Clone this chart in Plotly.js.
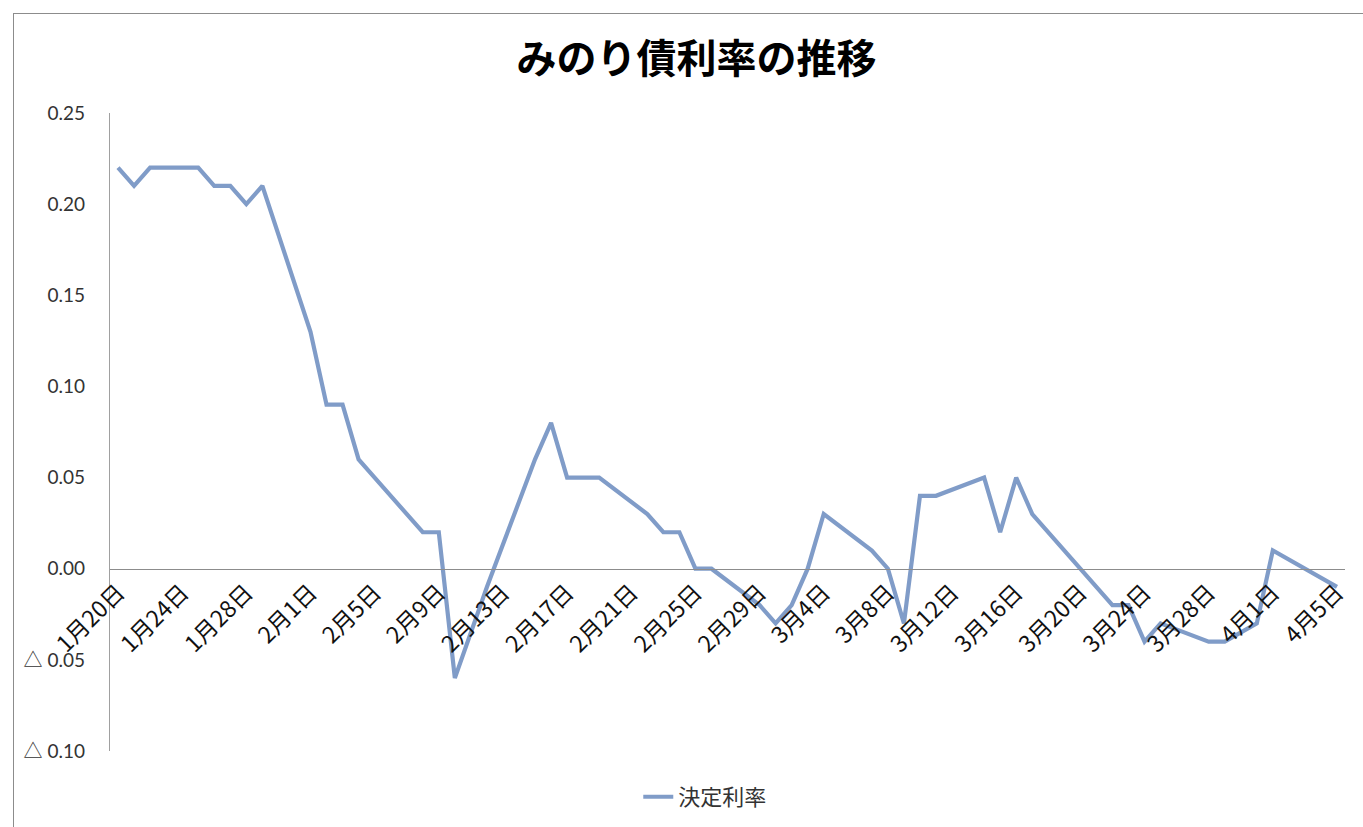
<!DOCTYPE html>
<html>
<head>
<meta charset="utf-8">
<script src="https://cdn.plot.ly/plotly-3.0.1.min.js"></script>
<style>
  html, body { margin: 0; padding: 0; background: #fff; }
  #chart { position: absolute; left: 0; top: 0; width: 1363px; height: 827px; }
  #frame { position: absolute; left: 13px; top: 13px; width: 1400px; height: 900px;
           border-top: 1.5px solid #8c8c8c; border-left: 1.5px solid #8c8c8c; pointer-events: none; }
</style>
</head>
<body>
<div id="chart"></div>
<div id="frame"></div>
<script>
const seriesName = '決定利率';
const dates = ['2016-01-20','2016-01-21','2016-01-22','2016-01-25','2016-01-26','2016-01-27','2016-01-28','2016-01-29',
  '2016-02-01','2016-02-02','2016-02-03','2016-02-04','2016-02-05','2016-02-08','2016-02-09','2016-02-10','2016-02-12',
  '2016-02-15','2016-02-16','2016-02-17','2016-02-18','2016-02-19','2016-02-22','2016-02-23','2016-02-24','2016-02-25','2016-02-26',
  '2016-02-29','2016-03-01','2016-03-02','2016-03-03','2016-03-04','2016-03-07','2016-03-08','2016-03-09','2016-03-10','2016-03-11',
  '2016-03-14','2016-03-15','2016-03-16','2016-03-17','2016-03-18','2016-03-22','2016-03-23','2016-03-24','2016-03-25',
  '2016-03-28','2016-03-29','2016-03-30','2016-03-31','2016-04-01','2016-04-05'];
const rates = [0.22,0.21,0.22,0.22,0.21,0.21,0.20,0.21,
  0.13,0.09,0.09,0.06,0.05,0.02,0.02,-0.06,-0.01,
  0.06,0.08,0.05,0.05,0.05,0.03,0.02,0.02,0.00,0.00,
  -0.02,-0.03,-0.02,0.00,0.03,0.01,0.00,-0.03,0.04,0.04,
  0.05,0.02,0.05,0.03,0.02,-0.02,-0.02,-0.04,-0.03,
  -0.04,-0.04,-0.035,-0.03,0.01,-0.01];
const xTickVals = ['2016-01-20','2016-01-24','2016-01-28','2016-02-01','2016-02-05','2016-02-09','2016-02-13','2016-02-17',
  '2016-02-21','2016-02-25','2016-02-29','2016-03-04','2016-03-08','2016-03-12','2016-03-16','2016-03-20','2016-03-24',
  '2016-03-28','2016-04-01','2016-04-05'];
const xTickText = ['1月20日','1月24日','1月28日','2月1日','2月5日','2月9日','2月13日','2月17日','2月21日','2月25日','2月29日',
  '3月4日','3月8日','3月12日','3月16日','3月20日','3月24日','3月28日','4月1日','4月5日'];
const yTickVals = [0.25,0.20,0.15,0.10,0.05,0.00,-0.05,-0.10];
const yTickText = ['0.25','0.20','0.15','0.10','0.05','0.00','△ 0.05','△ 0.10'];
const titleText = 'みのり債利率の推移';

const fontFam = "Lato, 'Noto Sans CJK JP', sans-serif";
const yMin = -0.10, yMax = 0.25;

const trace = {
  type: 'scatter', mode: 'lines', x: dates, y: rates, name: seriesName,
  line: { color: '#809cc8', width: 4.2 }
};

const layout = {
  width: 1363, height: 827,
  margin: { l: 110, r: 18, t: 113, b: 76, autoexpand: false },
  paper_bgcolor: '#ffffff', plot_bgcolor: '#ffffff',
  font: { family: fontFam, color: '#222', size: 16 },
  title: { text: titleText, x: 0.511, xanchor: 'center', y: 0.929, yanchor: 'middle',
           font: { family: "'Noto Sans CJK JP', sans-serif", size: 40, color: '#000', weight: 'bold' } },
  showlegend: true,
  legend: { orientation: 'h', x: 0.482, xanchor: 'center', y: -0.072, yanchor: 'middle',
            font: { family: "'Noto Sans CJK JP', sans-serif", size: 22, color: '#333' } },
  xaxis: {
    type: 'date', range: ['2016-01-19 12:00', '2016-04-05 12:00'],
    anchor: 'free', position: (0 - yMin) / (yMax - yMin),
    showline: true, linecolor: '#8c8c8c', linewidth: 1.2,
    showgrid: false, zeroline: false, ticks: '',
    tickmode: 'array', tickvals: xTickVals, ticktext: xTickText, tickangle: -45,
    tickfont: { family: "'Noto Sans CJK JP', sans-serif", size: 23, color: '#111' }
  },
  yaxis: {
    range: [yMin, yMax], showline: true, linecolor: '#a0a0a0', linewidth: 1.2,
    showgrid: false, zeroline: false, ticks: '',
    tickmode: 'array', tickvals: yTickVals, ticktext: yTickText,
    ticklabelstandoff: 20,
    tickfont: { family: fontFam, size: 19, color: '#333' }
  }
};

Plotly.newPlot('chart', [trace], layout, { staticPlot: true, displayModeBar: false });
</script>
</body>
</html>
